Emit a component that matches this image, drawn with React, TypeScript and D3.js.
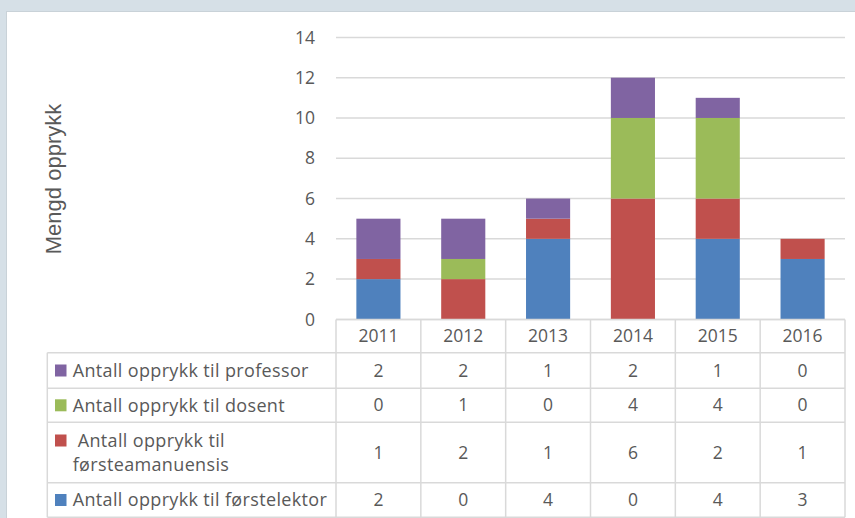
import React from "react";
import * as d3 from "d3";

const years = ["2011", "2012", "2013", "2014", "2015", "2016"];
const professor = [2, 2, 1, 2, 1, 0];
const dosent = [0, 1, 0, 4, 4, 0];
const forsteamanuensis = [1, 2, 1, 6, 2, 1];
const forstelektor = [2, 0, 4, 0, 4, 3];
const yTicks = [0, 2, 4, 6, 8, 10, 12, 14];

// table rows, top to bottom
const rows = [
  { key: "professor", label: ["Antall opprykk til professor"], color: "#8064a2", values: professor },
  { key: "dosent", label: ["Antall opprykk til dosent"], color: "#9bbb59", values: dosent },
  { key: "forsteamanuensis", label: [" Antall opprykk til", "førsteamanuensis"], color: "#c0504d", values: forsteamanuensis },
  { key: "forstelektor", label: ["Antall opprykk til førstelektor"], color: "#4f81bd", values: forstelektor },
];
// stack order bottom to top
const stackKeys = ["forstelektor", "forsteamanuensis", "dosent", "professor"];

const W = 855, H = 518;
const font = "'Open Sans', sans-serif";
const textColor = "#595959";
const lineColor = "#d9d9d9";

export default function App() {
  const x = d3.scaleBand().domain(years).range([336, 845]).paddingInner(0).paddingOuter(0);
  const y = d3.scaleLinear().domain([0, 14]).range([319.4, 37.4]);
  const barW = x.bandwidth() * 0.52;

  const table = years.map((yr, i) => {
    const o: any = { year: yr };
    rows.forEach(r => (o[r.key] = r.values[i]));
    return o;
  });
  const stacked = d3.stack().keys(stackKeys)(table);
  const colorOf = (k: string) => rows.find(r => r.key === k)!.color;

  const rowLines = [352.7, 388.3, 422.3, 482.7, 517.3];
  const tableLeft = 47.3;

  return (
    <svg width={W} height={H} style={{ position: "fixed", left: 0, top: 0 }} fontFamily={font}>
      <rect x={0} y={0} width={W} height={H} fill="#d6e0e7" />
      <rect x={6.5} y={11.5} width={W} height={H} fill="#ffffff" stroke="#c9d2d8" />

      {/* gridlines */}
      {yTicks.map(t => (
        <line key={t} x1={336} x2={845} y1={y(t)} y2={y(t)} stroke={lineColor} strokeWidth={1.5} />
      ))}
      {yTicks.map(t => (
        <text key={"l" + t} x={315} y={y(t)} dy="0.35em" textAnchor="end" fontSize={17.5} fill={textColor}>
          {t}
        </text>
      ))}

      <text
        transform={`translate(61,179) rotate(-90)`}
        textAnchor="middle"
        fontSize={22}
        fontFamily="'Liberation Sans', Arial, sans-serif"
        fill={textColor}
      >
        Mengd opprykk
      </text>

      {/* bars */}
      {stacked.map(s => (
        <g key={s.key} fill={colorOf(s.key)}>
          {s.map((d, i) => (
            <rect
              key={i}
              x={x(years[i])! + (x.bandwidth() - barW) / 2}
              y={y(d[1])}
              width={barW}
              height={y(d[0]) - y(d[1])}
            />
          ))}
        </g>
      ))}

      {/* data table */}
      <g stroke={lineColor} strokeWidth={1.5} fill="none">
        <line x1={336} x2={845} y1={y(0)} y2={y(0)} />
        {rowLines.map((ly, i) => (
          <line key={i} x1={tableLeft} x2={845} y1={ly} y2={ly} />
        ))}
        <line x1={tableLeft} x2={tableLeft} y1={rowLines[0]} y2={rowLines[4]} />
        {years.map(yr => (
          <line key={yr} x1={x(yr)!} x2={x(yr)!} y1={y(0)} y2={rowLines[4]} />
        ))}
        <line x1={845} x2={845} y1={y(0)} y2={rowLines[4]} />
      </g>

      {years.map(yr => (
        <text key={yr} x={x(yr)! + x.bandwidth() / 2} y={(y(0) + rowLines[0]) / 2} dy="0.35em" textAnchor="middle" fontSize={17.5} fill={textColor}>
          {yr}
        </text>
      ))}

      {rows.map((r, ri) => {
        const top = rowLines[ri], bot = rowLines[ri + 1];
        const mid = (top + bot) / 2;
        const lineH = 24;
        const first = mid - ((r.label.length - 1) * lineH) / 2;
        return (
          <g key={r.key}>
            <rect x={55} y={first - 6} width={11.5} height={12} fill={r.color} />
            {r.label.map((t, li) => (
              <text key={li} x={72.7} y={first + li * lineH} dy="0.35em" fontSize={18} letterSpacing={0.35} fill={textColor} style={{ whiteSpace: "pre" }}>
                {t}
              </text>
            ))}
            {r.values.map((v, i) => (
              <text key={i} x={x(years[i])! + x.bandwidth() / 2} y={mid} dy="0.35em" textAnchor="middle" fontSize={17.5} fill={textColor}>
                {v}
              </text>
            ))}
          </g>
        );
      })}
    </svg>
  );
}
